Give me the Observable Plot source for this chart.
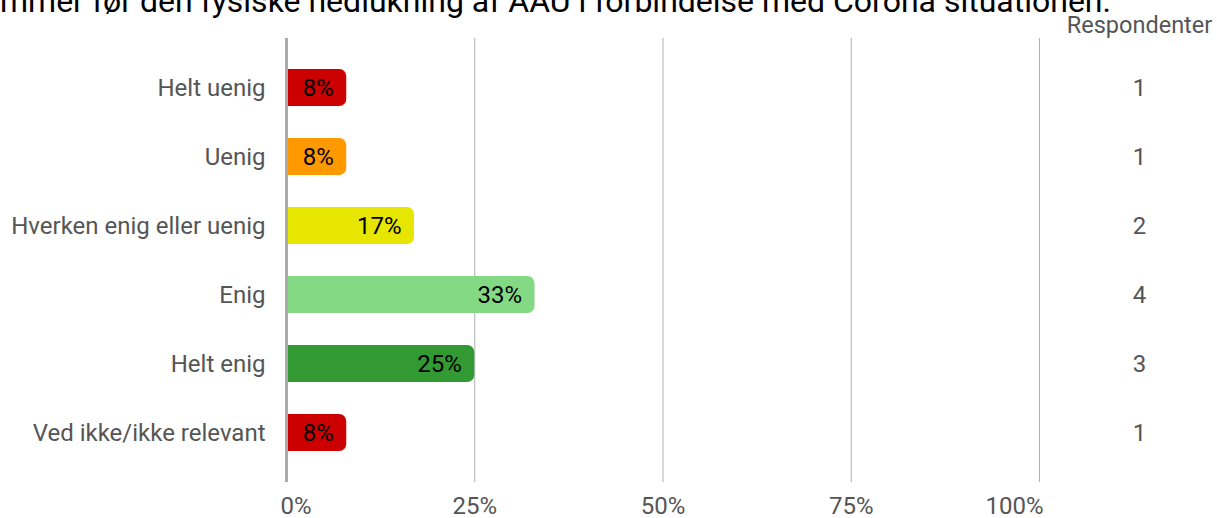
<!DOCTYPE html>
<html>
<head>
<meta charset="utf-8">
<script src="https://cdn.jsdelivr.net/npm/d3@7"></script>
<script src="https://cdn.jsdelivr.net/npm/@observablehq/plot@0.6"></script>
<style>
  html, body { margin: 0; padding: 0; background: #fff; }
  #wrap { position: relative; width: 1217px; height: 518px; overflow: hidden; font-family: Roboto, sans-serif; }
  #title { position: absolute; left: 0; top: -15px; font-size: 32px; line-height: 32px; color: #000; white-space: nowrap; }
  #chart { position: absolute; left: 0; top: 0; }
</style>
</head>
<body>
<div id="wrap">
  <div id="chart"></div>
  <div id="title">mmer før den fysiske nedlukning af AAU i forbindelse med Corona situationen.</div>
</div>
<script>
const categories = ["Helt uenig", "Uenig", "Hverken enig eller uenig", "Enig", "Helt enig", "Ved ikke/ikke relevant"];
const percents = [8, 8, 17, 33, 25, 8];
const counts = [1, 1, 2, 4, 3, 1];
const colors = ["#cc0000", "#ff9900", "#e6e600", "#84d984", "#339933", "#cc0000"];
const xTicks = [0, 25, 50, 75, 100];
const countHeader = "Respondenter";

const data = categories.map((c, i) => ({category: c, pct: percents[i], count: counts[i], color: colors[i]}));

const chart = Plot.plot({
  width: 1217,
  height: 518,
  marginLeft: 286,
  marginRight: 178,
  marginTop: 38,
  marginBottom: 36,
  style: {fontFamily: "Roboto, sans-serif", background: "#fff"},
  x: {domain: [0, 100], axis: null},
  y: {domain: categories, paddingInner: 0.464, paddingOuter: 0.449, axis: null},
  marks: [
    Plot.gridX(xTicks.slice(1), {stroke: "#b0b0b0", strokeOpacity: 1, strokeWidth: 1}),
    Plot.barX(data, {x1: 0, x2: "pct", y: "category", fill: "color", rx: 7}),
    Plot.barX(data, {x1: 0, x2: d => d.pct / 2, y: "category", fill: "color"}),
    Plot.ruleX([0], {stroke: "#aaaaaa", strokeWidth: 3}),
    Plot.text(data, {x: "pct", y: "category", text: d => d.pct + "%", textAnchor: "end", dx: -13, fill: "#000", fontSize: 24}),
    Plot.text(data, {x: 0, y: "category", text: "category", textAnchor: "end", dx: -21, fill: "#555", fontSize: 24}),
    Plot.text(data, {y: "category", text: d => String(d.count), frameAnchor: "right", dx: 100, textAnchor: "middle", fill: "#555", fontSize: 24}),
    Plot.text([countHeader], {frameAnchor: "top-right", dx: 100, dy: -22, textAnchor: "middle", fill: "#555", fontSize: 23.5}),
    Plot.text(xTicks.filter((d, i) => i === 0), {x: d => d, frameAnchor: "bottom", dy: 31, dx: -6, textAnchor: "start", text: d => d + "%", fill: "#555", fontSize: 24}),
    Plot.text(xTicks.filter((d, i) => i > 0 && i < xTicks.length - 1), {x: d => d, frameAnchor: "bottom", dy: 31, textAnchor: "middle", text: d => d + "%", fill: "#555", fontSize: 24}),
    Plot.text(xTicks.filter((d, i) => i === xTicks.length - 1), {x: d => d, frameAnchor: "bottom", dy: 31, dx: 4, textAnchor: "end", text: d => d + "%", fill: "#555", fontSize: 24})
  ]
});
document.getElementById("chart").appendChild(chart);
</script>
</body>
</html>
